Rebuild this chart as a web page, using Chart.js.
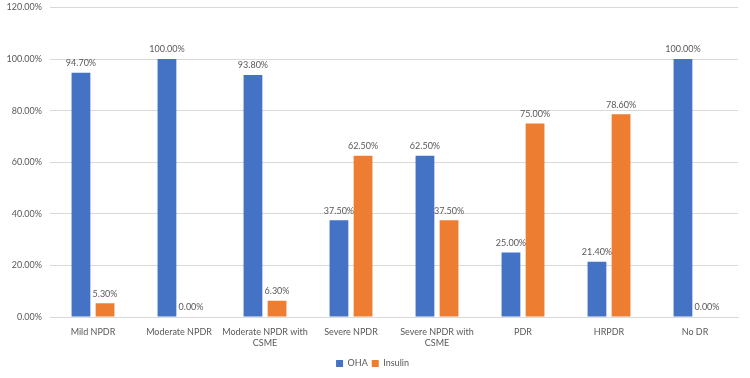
<!DOCTYPE html>
<html>
<head>
<meta charset="utf-8">
<script src="https://cdn.jsdelivr.net/npm/chart.js@4/dist/chart.umd.min.js"></script>
<style>
  html, body { margin: 0; padding: 0; background: #fff; overflow: hidden; }
  #wrap { width: 750px; height: 384px; margin-top: -6px; }
</style>
</head>
<body>
<div id="wrap"><canvas id="chart"></canvas></div>
<script>
// datos
const categories = [
  'Mild NPDR', 'Moderate NPDR', ['Moderate NPDR with', 'CSME'], 'Severe NPDR',
  ['Severe NPDR with', 'CSME'], 'PDR', 'HRPDR', 'No DR'
];
const ohaValues = [94.7, 100, 93.8, 37.5, 62.5, 25.0, 21.4, 100];
const insulinValues = [5.3, 0, 6.3, 62.5, 37.5, 75.0, 78.6, 0];
const yTicks = [0, 20, 40, 60, 80, 100, 120];

const FONT = "Lato, 'Liberation Sans', sans-serif";
const TEXT = '#595959';
const SIZE = 9;

// etiquetas encima de cada barra
const valueLabels = {
  id: 'valueLabels',
  afterDatasetsDraw(chart) {
    const ctx = chart.ctx;
    ctx.save();
    ctx.font = SIZE + 'px ' + FONT;
    ctx.fillStyle = TEXT;
    ctx.textAlign = 'center';
    ctx.textBaseline = 'bottom';
    chart.data.datasets.forEach((ds, i) => {
      chart.getDatasetMeta(i).data.forEach((bar, j) => {
        ctx.fillText(ds.data[j].toFixed(2) + '%', bar.x, bar.y - 5);
      });
    });
    ctx.restore();
  }
};

new Chart(document.getElementById('chart'), {
  type: 'bar',
  data: {
    labels: categories,
    datasets: [
      { label: 'OHA', data: ohaValues, backgroundColor: '#4472C4', categoryPercentage: 0.56, barPercentage: 0.78 },
      { label: 'Insulin', data: insulinValues, backgroundColor: '#ED7D31', categoryPercentage: 0.56, barPercentage: 0.78 }
    ]
  },
  options: {
    responsive: true,
    maintainAspectRatio: false,
    animation: false,
    layout: { autoPadding: false, padding: { left: 7, right: 12, top: 3, bottom: 0 } },
    plugins: {
      legend: {
        position: 'bottom',
        labels: {
          font: { family: FONT, size: SIZE },
          color: TEXT,
          boxWidth: 7,
          boxHeight: 7,
          padding: 4
        }
      },
      tooltip: { enabled: false }
    },
    scales: {
      x: {
        afterFit(axis) { axis.height = 38; },
        grid: { display: false, drawTicks: false },
        border: { color: '#d9d9d9' },
        ticks: { font: { family: FONT, size: SIZE }, color: TEXT, maxRotation: 0, autoSkip: false, padding: 10 }
      },
      y: {
        min: 0,
        max: 120,
        afterBuildTicks(axis) { axis.ticks = yTicks.map(v => ({ value: v })); },
        afterFit(axis) { axis.width = 43; },
        grid: { color: '#d9d9d9', drawTicks: false },
        border: { display: false },
        ticks: {
          font: { family: FONT, size: SIZE },
          color: TEXT,
          padding: 8,
          callback: v => v.toFixed(2) + '%'
        }
      }
    }
  },
  plugins: [valueLabels]
});
</script>
</body>
</html>
